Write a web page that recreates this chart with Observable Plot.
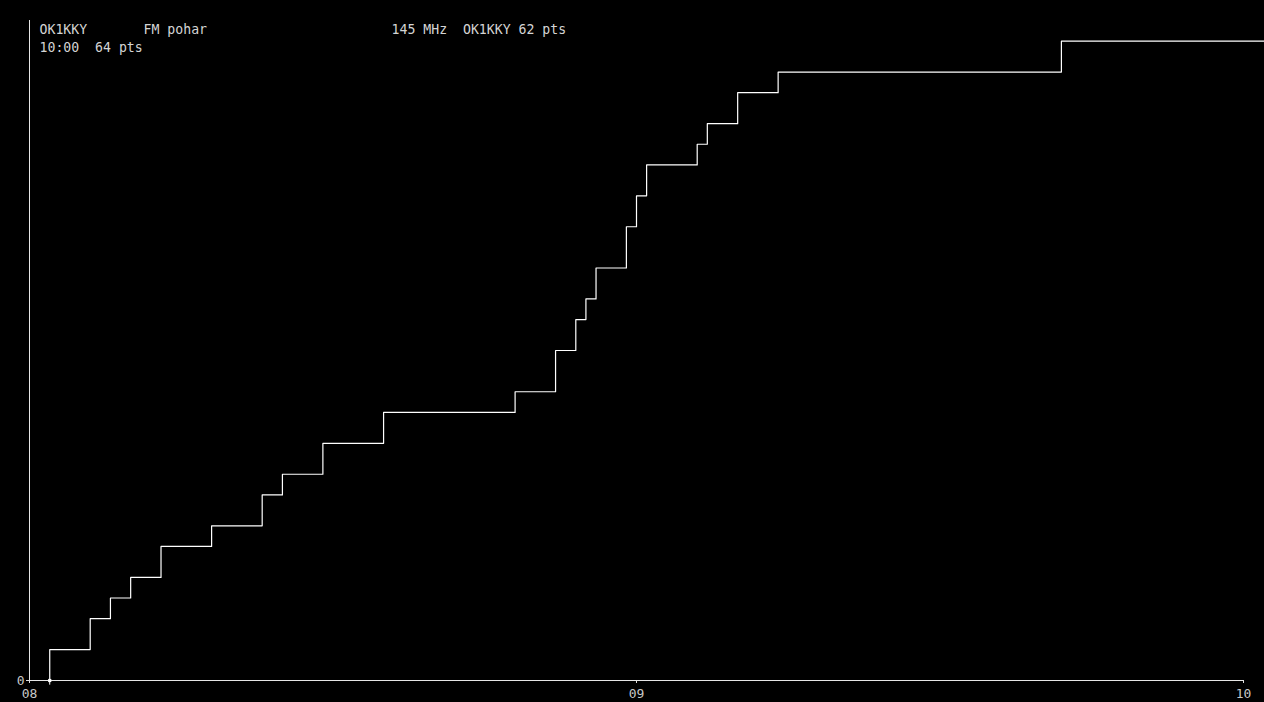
<!DOCTYPE html>
<html>
<head>
<meta charset="utf-8">
<script src="https://cdn.jsdelivr.net/npm/d3@7"></script>
<script src="https://cdn.jsdelivr.net/npm/@observablehq/plot@0.6"></script>
<style>
  html, body { margin: 0; padding: 0; background: #000; overflow: hidden; }
  #chart svg text { white-space: pre; }
</style>
</head>
<body>
<div id="chart"></div>
<script>
// QSO times (HH:MM) and cumulative points after each QSO
const qsoTimes = ["08:02","08:06","08:08","08:10","08:13","08:18","08:23","08:25","08:29","08:35",
                  "08:48","08:52","08:54","08:55","08:56","08:59","09:00","09:01","09:06","09:07",
                  "09:10","09:14","09:42"];
const cumPoints = [3, 6, 8, 10, 13, 15, 18, 20, 23, 26,
                   28, 32, 35, 37, 40, 44, 47, 50, 52, 54,
                   57, 59, 62];
const startTime = "08:02";
const endTime = "10:02";
const xDomain = ["08:00", "10:00"];
const xTicks = ["08:00", "09:00", "10:00"];
const yDomain = [0, 64];
const yTicks = [0];
// header texts with their monospace column and row
const headerTexts = ["OK1KKY", "FM pohar", "145 MHz  OK1KKY 62 pts", "10:00  64 pts"];
const headerCols = [0, 13, 44, 0];
const headerRows = [0, 0, 0, 1];

const t = s => new Date(`2024-05-01T${s}:00`);

const series = [{time: t(startTime), pts: 0}]
  .concat(qsoTimes.map((s, i) => ({time: t(s), pts: cumPoints[i]})))
  .concat([{time: t(endTime), pts: cumPoints[cumPoints.length - 1]}]);

const font = "'DejaVu Sans Mono', 'Liberation Mono', monospace";
const charW = 8;

const headerMarks = headerTexts.map((txt, i) =>
  Plot.text([txt], {
    text: d => d,
    frameAnchor: "top-left", textAnchor: "start", lineAnchor: "top",
    dx: 10 + headerCols[i] * charW, dy: 4 + headerRows[i] * 18,
    fill: "#d4d4d4", fontSize: 13.2, fontFamily: font
  })
);

const chart = Plot.plot({
  width: 1264,
  height: 702,
  marginTop: 20,
  marginBottom: 22,
  marginLeft: 29,
  marginRight: 21,
  style: {background: "#000", color: "#ccc", fontFamily: font, fontSize: "13px"},
  x: {type: "time", domain: xDomain.map(t), label: null, axis: null},
  y: {domain: yDomain, label: null, axis: null},
  marks: [
    Plot.axisX({ticks: xTicks.map(t), tickFormat: d3.timeFormat("%H"), tickSize: 3, tickPadding: 5, stroke: "#ddd", fill: "#c8c8c8", fontSize: 13, label: null}),
    Plot.axisY({ticks: yTicks, tickSize: 3, tickPadding: 2, stroke: "#ddd", fill: "#c8c8c8", fontSize: 13, label: null}),
    Plot.ruleY([0], {stroke: "#e6e6e6"}),
    Plot.ruleX([t(xDomain[0])], {stroke: "#e6e6e6"}),
    Plot.line(series, {x: "time", y: "pts", curve: "step-after", stroke: "#fff", strokeWidth: 1.2}),
    Plot.ruleX([t(startTime)], {y1: 0, y2: -0.45, stroke: "#fff"}),
    Plot.dot([{time: t(startTime), pts: 0}], {x: "time", y: "pts", symbol: "square", r: 1.8, fill: "#fff", stroke: null}),
    ...headerMarks
  ]
});
document.getElementById("chart").appendChild(chart);
</script>
</body>
</html>
